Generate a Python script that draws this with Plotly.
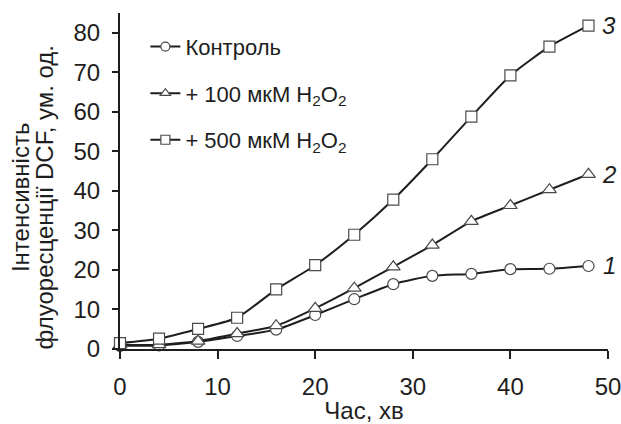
import plotly.graph_objects as go

time_min = [0, 4, 8, 12, 16, 20, 24, 28, 32, 36, 40, 44, 48]
control = [0.8, 0.9, 1.8, 3.3, 4.9, 8.6, 12.6, 16.4, 18.5, 19.0, 20.2, 20.3, 21.0]
h2o2_100 = [1.0, 1.1, 2.0, 3.9, 5.9, 10.3, 15.4, 20.8, 26.3, 32.3, 36.3, 40.3, 44.2]
h2o2_500 = [1.5, 2.6, 5.1, 7.9, 15.1, 21.2, 28.9, 37.8, 48.0, 58.8, 69.2, 76.5, 81.8]

series_names = ["Контроль", "+ 100 мкМ H<sub>2</sub>O<sub>2</sub>", "+ 500 мкМ H<sub>2</sub>O<sub>2</sub>"]
series_values = [control, h2o2_100, h2o2_500]
series_symbols = ["circle", "triangle-up", "square"]
series_sizes = [11, 12, 11]
curve_labels = ["1", "2", "3"]

x_ticks = [0, 10, 20, 30, 40, 50]
y_ticks = [0, 10, 20, 30, 40, 50, 60, 70, 80]
y_title_lines = ["Інтенсивність", "флуоресценції DCF, ум. од."]

FONT = "Arial, Liberation Sans, sans-serif"
INK = "#1e1e1e"

fig = go.Figure()
for i, (name, vals, sym, sz) in enumerate(zip(series_names, series_values, series_symbols, series_sizes)):
    fig.add_trace(go.Scatter(
        x=time_min, y=vals, name=name, mode="lines+markers",
        legendgroup=f"g{i}", showlegend=False,
        line=dict(color=INK, width=2, shape="spline", smoothing=0.6),
        marker=dict(symbol=sym, size=sz, color="white", line=dict(color="#4a4a4a", width=1.2)),
        cliponaxis=False,
    ))
    # legend entry with smaller marker, as in the reference legend
    fig.add_trace(go.Scatter(
        x=[None], y=[None], name=name, mode="lines+markers",
        legendgroup=f"g{i}", showlegend=True,
        line=dict(color=INK, width=2),
        marker=dict(symbol=sym, size=9, color="white", line=dict(color="#4a4a4a", width=1.2)),
    ))

for lab, vals in zip(curve_labels, series_values):
    fig.add_annotation(x=time_min[-1], y=vals[-1], text=lab, showarrow=False,
                       xshift=21, font=dict(size=24, family=FONT, color=INK, style="italic"))

for line_text, xp in zip(y_title_lines, [-0.205, -0.155]):
    fig.add_annotation(xref="paper", yref="paper", x=xp, y=0.452, xanchor="center", yanchor="middle",
                       text=line_text, textangle=-90, showarrow=False,
                       font=dict(size=24, family=FONT, color=INK))

fig.update_layout(
    width=621, height=424,
    margin=dict(l=120, r=13, t=13, b=75),
    paper_bgcolor="white", plot_bgcolor="white",
    font=dict(family=FONT, size=24, color=INK),
    showlegend=True,
    legend=dict(x=0.052, y=0.962, xanchor="left", yanchor="top", bgcolor="rgba(0,0,0,0)",
                font=dict(size=22, family=FONT, color=INK), tracegroupgap=15,
                itemwidth=30, traceorder="grouped"),
    xaxis=dict(range=[0, 50], tickvals=x_ticks, showgrid=False, zeroline=False,
               showline=True, linecolor=INK, linewidth=2, ticks="outside", ticklen=8,
               tickwidth=2, tickcolor=INK, ticklabelstandoff=7, automargin=False,
               ticklabeloverflow="allow",
               title=dict(text="Час, хв", standoff=6, font=dict(size=24))),
    yaxis=dict(range=[0, 85], tickvals=y_ticks, showgrid=False, zeroline=False,
               showline=True, linecolor=INK, linewidth=2, ticks="outside", ticklen=6,
               tickwidth=2, tickcolor=INK, ticklabelstandoff=7, automargin=False,
               ticklabeloverflow="allow"),
)

fig.write_html("out.html")
